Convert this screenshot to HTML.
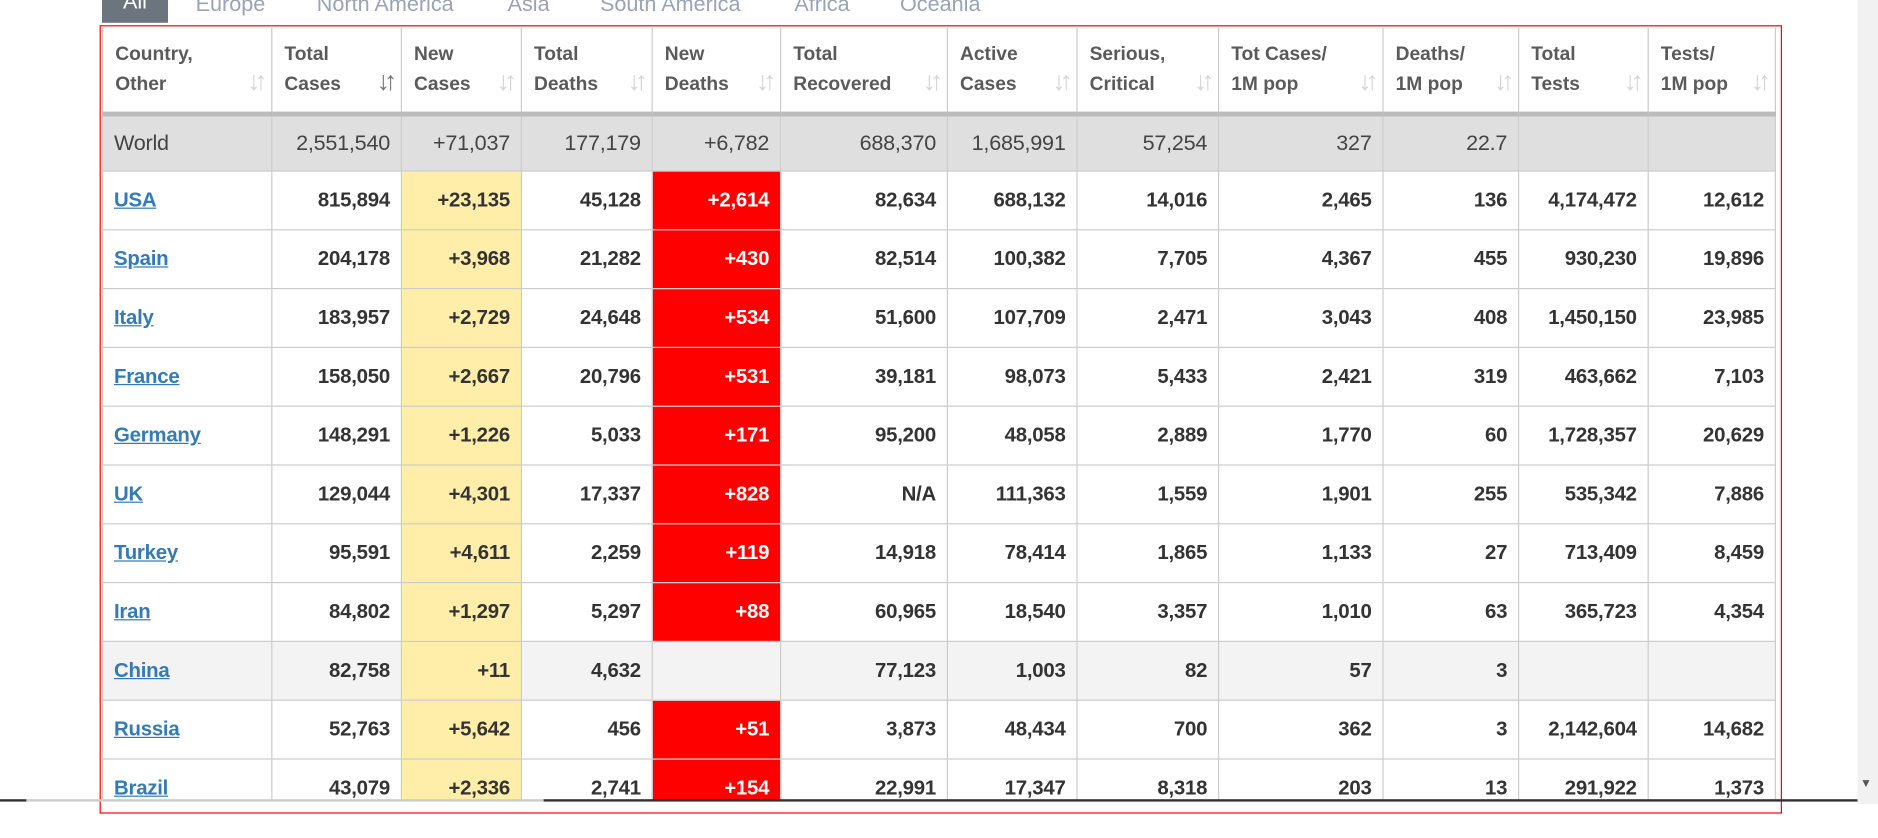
<!DOCTYPE html>
<html><head><meta charset="utf-8">
<style>
html,body{margin:0;padding:0;background:#fff;width:1878px;height:838px;overflow:hidden}
#wrap{position:absolute;left:0;top:0;width:1566px;height:698px;transform:scale(1.2);transform-origin:0 0;font-family:"Liberation Sans",Arial,sans-serif}
.tab{position:absolute;top:-8px;font-size:18px;color:#9aa3b5;line-height:22px}
#alltab{position:absolute;left:85px;top:-10px;width:55px;height:29px;background:#6c757d;color:#fff;font-size:18px;text-align:center;line-height:22px}
#redbox{position:absolute;left:83px;top:21px;width:1400px;height:655px;border:1px solid #f00}
#clip{position:absolute;left:85px;top:23px;width:1397px;height:644px;overflow:hidden}
table{border-collapse:collapse;table-layout:fixed;width:1394px}
th{height:70px;padding:0 10px;vertical-align:middle;text-align:left;font-size:16px;font-weight:bold;color:#5a5a5a;line-height:25px;border-left:1px solid #ccc;border-right:1px solid #ccc;border-bottom:4px solid #bbb;position:relative}
th .s{position:absolute;right:8px;top:32px;color:#d5d5d5;font-size:22px;letter-spacing:-5px;font-weight:bold}
th .s.on{color:#777}
td{height:48px;padding:0 9px;text-align:right;font-size:17px;font-weight:bold;color:#333;border:1px solid #ccc;white-space:nowrap;letter-spacing:-0.2px}
td:first-child{text-align:left}
tr.world td{background:#dfdfdf;font-weight:normal;font-size:18px;color:#444;height:45px}
td a{color:#337ab7;text-decoration:underline}
td.y{background:#ffeeaa}
td.r{background:#f00;color:#fff}
tr.cn td{background:#f3f3f3}
tr.cn td.y{background:#ffeeaa}
#hline1{position:absolute;left:0;top:666px;width:22px;height:2px;background:#333}
#hline2{position:absolute;left:22px;top:666px;width:431px;height:2px;background:#ccc}
#hline3{position:absolute;left:453px;top:666px;width:1095px;height:2px;background:#333}
#scroll{position:absolute;left:1548px;top:0;width:18px;height:670px;background:#f1f1f1}
#arrow{position:absolute;left:1550px;top:648px;font-size:10px;color:#555}
</style></head>
<body>
<div id="wrap">
<div id="alltab">All</div>
<div class="tab" style="left:163px">Europe</div>
<div class="tab" style="left:264px">North America</div>
<div class="tab" style="left:423px">Asia</div>
<div class="tab" style="left:500px">South America</div>
<div class="tab" style="left:662px">Africa</div>
<div class="tab" style="left:750px">Oceania</div>
<div id="redbox"></div>
<div id="clip">
<table id="t">
<colgroup><col style="width:141px"><col style="width:108px"><col style="width:100px"><col style="width:109px"><col style="width:107px"><col style="width:139px"><col style="width:108px"><col style="width:118px"><col style="width:137px"><col style="width:113px"><col style="width:108px"><col style="width:106px"></colgroup>
<thead><tr id="hr"></tr></thead>
<tbody id="tb"></tbody>
</table>
</div>
<div id="hline1"></div><div id="hline2"></div><div id="hline3"></div>
<div id="scroll"></div>
<div id="arrow">▼</div>
</div>
<script>
const headers=[["Country,","Other"],["Total","Cases"],["New","Cases"],["Total","Deaths"],["New","Deaths"],["Total","Recovered"],["Active","Cases"],["Serious,","Critical"],["Tot Cases/","1M pop"],["Deaths/","1M pop"],["Total","Tests"],["Tests/","1M pop"]];
const countries=["World","USA","Spain","Italy","France","Germany","UK","Turkey","Iran","China","Russia","Brazil"];
const totalCases=["2,551,540","815,894","204,178","183,957","158,050","148,291","129,044","95,591","84,802","82,758","52,763","43,079"];
const newCases=["+71,037","+23,135","+3,968","+2,729","+2,667","+1,226","+4,301","+4,611","+1,297","+11","+5,642","+2,336"];
const totalDeaths=["177,179","45,128","21,282","24,648","20,796","5,033","17,337","2,259","5,297","4,632","456","2,741"];
const newDeaths=["+6,782","+2,614","+430","+534","+531","+171","+828","+119","+88","","+51","+154"];
const totalRecovered=["688,370","82,634","82,514","51,600","39,181","95,200","N/A","14,918","60,965","77,123","3,873","22,991"];
const activeCases=["1,685,991","688,132","100,382","107,709","98,073","48,058","111,363","78,414","18,540","1,003","48,434","17,347"];
const serious=["57,254","14,016","7,705","2,471","5,433","2,889","1,559","1,865","3,357","82","700","8,318"];
const casesPerM=["327","2,465","4,367","3,043","2,421","1,770","1,901","1,133","1,010","57","362","203"];
const deathsPerM=["22.7","136","455","408","319","60","255","27","63","3","3","13"];
const totalTests=["","4,174,472","930,230","1,450,150","463,662","1,728,357","535,342","713,409","365,723","","2,142,604","291,922"];
const testsPerM=["","12,612","19,896","23,985","7,103","20,629","7,886","8,459","4,354","","14,682","1,373"];

const hr=document.getElementById('hr');
headers.forEach((h,i)=>{
  const th=document.createElement('th');
  
  
  th.innerHTML=h[0]+'<br>'+h[1]+'<span class="s'+(i==1?' on':'')+'">↓↑</span>';
  hr.appendChild(th);
});
const cols=[totalCases,newCases,totalDeaths,newDeaths,totalRecovered,activeCases,serious,casesPerM,deathsPerM,totalTests,testsPerM];
const tb=document.getElementById('tb');
countries.forEach((c,r)=>{
  const tr=document.createElement('tr');
  
  
  if(r==0)tr.className='world';
  if(c=='China')tr.className='cn';
  const td0=document.createElement('td');
  
  
  td0.innerHTML=r==0?c:'<a>'+c+'</a>';
  tr.appendChild(td0);
  cols.forEach((col,j)=>{
    const td=document.createElement('td');
    
    
    td.textContent=col[r];
    if(r>0&&j==1)td.className='y';
    if(r>0&&j==3&&col[r]!=='')td.className='r';
    tr.appendChild(td);
  });
  tb.appendChild(tr);
});
</script>
</body></html>
